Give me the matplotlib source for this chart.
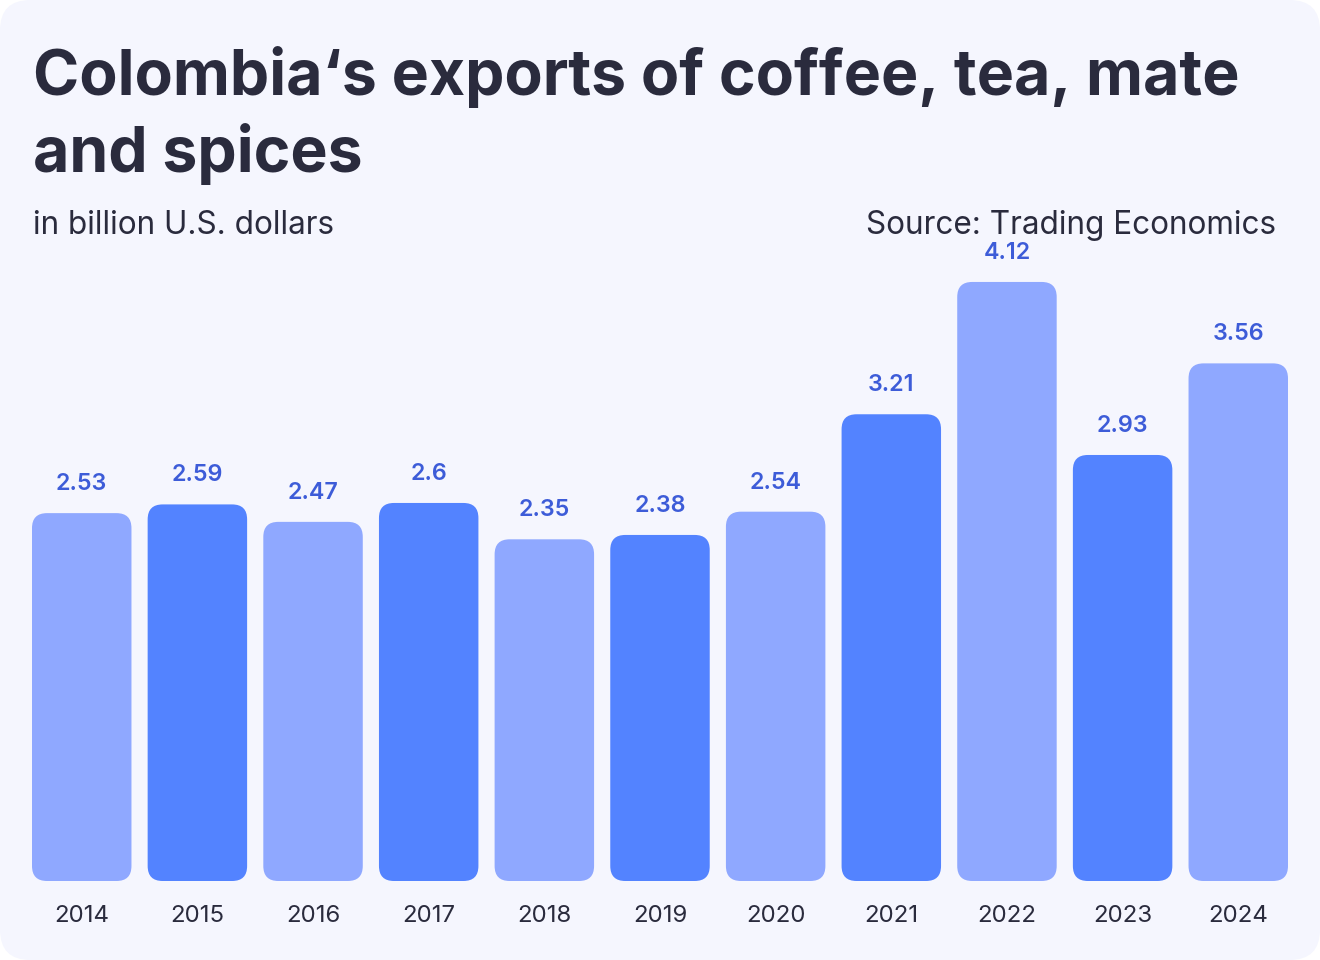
import matplotlib
matplotlib.use("Agg")
import matplotlib.pyplot as plt
from matplotlib.patches import FancyBboxPatch

years = ["2014", "2015", "2016", "2017", "2018", "2019", "2020", "2021", "2022", "2023", "2024"]
values = [2.53, 2.59, 2.47, 2.60, 2.35, 2.38, 2.54, 3.21, 4.12, 2.93, 3.56]
value_labels = ["2.53", "2.59", "2.47", "2.6", "2.35", "2.38", "2.54", "3.21", "4.12", "2.93", "3.56"]

LIGHT = "#8FA8FF"
DARK = "#5383FF"
colors = [LIGHT if i % 2 == 0 else DARK for i in range(len(years))]
TEXT = "#2A2B3D"
LABEL = "#3D5CD8"
CARD = "#F5F6FE"

plt.rcParams['font.family'] = ['Inter', 'DejaVu Sans']

W, H = 1320, 960
fig = plt.figure(figsize=(W / 100, H / 100), dpi=100, facecolor="white")

# card background
card = FancyBboxPatch((0, 0), 1, 1, boxstyle="round,pad=0,rounding_size=0.023",
                      mutation_aspect=W / H, transform=fig.transFigure,
                      facecolor=CARD, edgecolor="none", zorder=-5)
fig.patches.append(card)

# axes in pixel coordinates
x0, x1 = 32, 1288
yb = 960 - 881
ymax = 4.5
px_per_unit = 145.4
ax = fig.add_axes([x0 / W, yb / H, (x1 - x0) / W, ymax * px_per_unit / H])
ax.set_facecolor("none")
ax.set_zorder(2)
for s in ax.spines.values():
    s.set_visible(False)

n = len(years)
bw = 0.86
ax.set_xlim(-bw / 2, n - 1 + bw / 2)
ax.set_ylim(0, ymax)

bars = ax.bar(range(n), values, width=bw, color=colors)
# pixel size of data units
xu = (x1 - x0) / (n - 1 + bw)
r_px = 15
for b in bars:
    b.set_visible(False)
    p = FancyBboxPatch((b.get_x(), b.get_y()), b.get_width(), b.get_height(),
                       boxstyle=f"round,pad=0,rounding_size={r_px / xu}",
                       mutation_aspect=xu / px_per_unit,
                       facecolor=b.get_facecolor(), edgecolor="none", zorder=2)
    ax.add_patch(p)

for i, (v, lab) in enumerate(zip(values, value_labels)):
    ax.annotate(lab, (i, v), xytext=(0, 13), textcoords="offset points",
                ha="center", va="bottom", fontsize=16.8, fontweight="semibold",
                color=LABEL)

ax.set_xticks(range(n))
ax.set_xticklabels(years, fontsize=17.3, color=TEXT)
ax.tick_params(axis="x", length=0, pad=17)
ax.set_yticks([])

fig.text(33 / W, 1 - 172 / H, "Colombia‘s exports of coffee, tea, mate\nand spices",
         fontsize=45, fontweight="bold", color=TEXT, ha="left", va="baseline",
         linespacing=1.3)
fig.text(33 / W, 1 - 234 / H, "in billion U.S. dollars", fontsize=22.7,
         color=TEXT, ha="left", va="baseline")
fig.text(1276 / W, 1 - 234 / H, "Source: Trading Economics", fontsize=22.7,
         color=TEXT, ha="right", va="baseline")

fig.savefig("out.png", dpi=100, facecolor="white")
